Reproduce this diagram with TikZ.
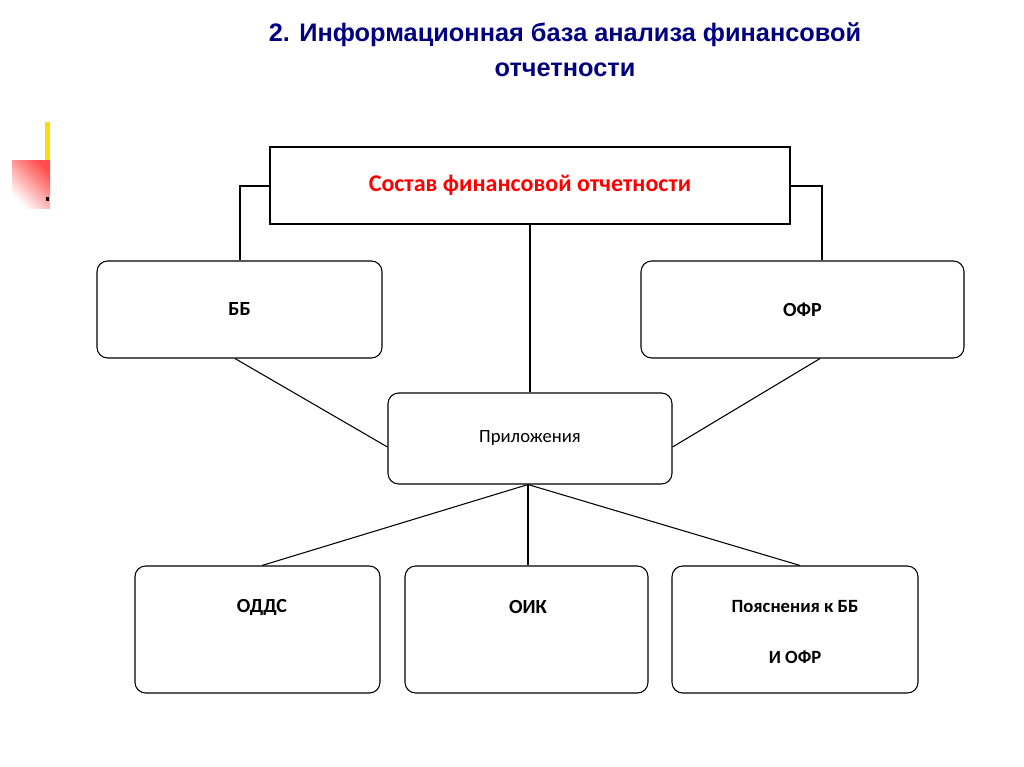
\documentclass[tikz,border=0pt]{standalone}
\usepackage{fontspec}
\setmainfont{Liberation Sans}
\newfontfamily\carlfont{Carlito}
\begin{document}
\begin{tikzpicture}[x=0.75pt,y=-0.75pt,
  rbox/.style={draw,thick,rounded corners=8pt,inner sep=0},
  lbl/.style={font=\carlfont\bfseries\fontsize{15}{18}\selectfont},
  ln/.style={draw,line width=0.8pt}]
\useasboundingbox (0,0) rectangle (1024,767);
\fill[white] (0,0) rectangle (1024,767);
\fill[yellow!80!orange] (45,122) rectangle (50,160);
\shade[top color=red!70,bottom color=white,shading angle=-45] (12,160) rectangle (50,208);
\fill (46,197) rectangle (49,201);
\node[align=center,text=blue!50!black,font=\bfseries\fontsize{19}{26}\selectfont] (title) at (565,50) {2. Информационная база анализа финансовой\\отчетности};
\node[draw,thick,minimum width=390pt,minimum height=57.75pt,text=red,font=\carlfont\bfseries\fontsize{18}{22}\selectfont] (top) at (530,185.5) {Состав финансовой отчетности};
\node[rbox,minimum width=213.75pt,minimum height=72.75pt,lbl] (bb) at (239.5,309.5) {ББ};
\node[rbox,minimum width=242.25pt,minimum height=72.75pt,lbl] (ofr) at (802.5,309.5) {ОФР};
\node[rbox,minimum width=213pt,minimum height=68.25pt,font=\carlfont\fontsize{14}{17}\selectfont] (pr) at (530,438.5) {Приложения};
\node[rbox,minimum width=183.75pt,minimum height=95.25pt] (odds) at (257.5,629.5) {};
\node[lbl] (t1) at (262,607) {ОДДС};
\node[rbox,minimum width=182.25pt,minimum height=95.25pt] (oik) at (526.5,629.5) {};
\node[lbl] (t2) at (528,607) {ОИК};
\node[rbox,minimum width=184.5pt,minimum height=95.25pt] (poy) at (795,629.5) {};
\node[lbl,align=center,font=\carlfont\bfseries\fontsize{14}{38}\selectfont] (t3) at (795,632) {Пояснения к ББ\\И ОФР};
\draw[ln] (top.west|-0,186) -- (240,186) -- (bb.north-|240,0);
\draw[ln] (top.east|-0,186) -- (822,186) -- (ofr.north-|822,0);
\draw[ln] (top.south) -- (pr.north);
\draw[ln] (bb.south-|235,0) -- (pr.west|-0,447);
\draw[ln] (ofr.south-|820,0) -- (pr.east|-0,447);
\draw[ln] (pr.south-|528,0) -- (odds.north-|262,0);
\draw[ln] (pr.south-|528,0) -- (oik.north-|528,0);
\draw[ln] (pr.south-|528,0) -- (poy.north-|800,0);
\end{tikzpicture}
\end{document}
